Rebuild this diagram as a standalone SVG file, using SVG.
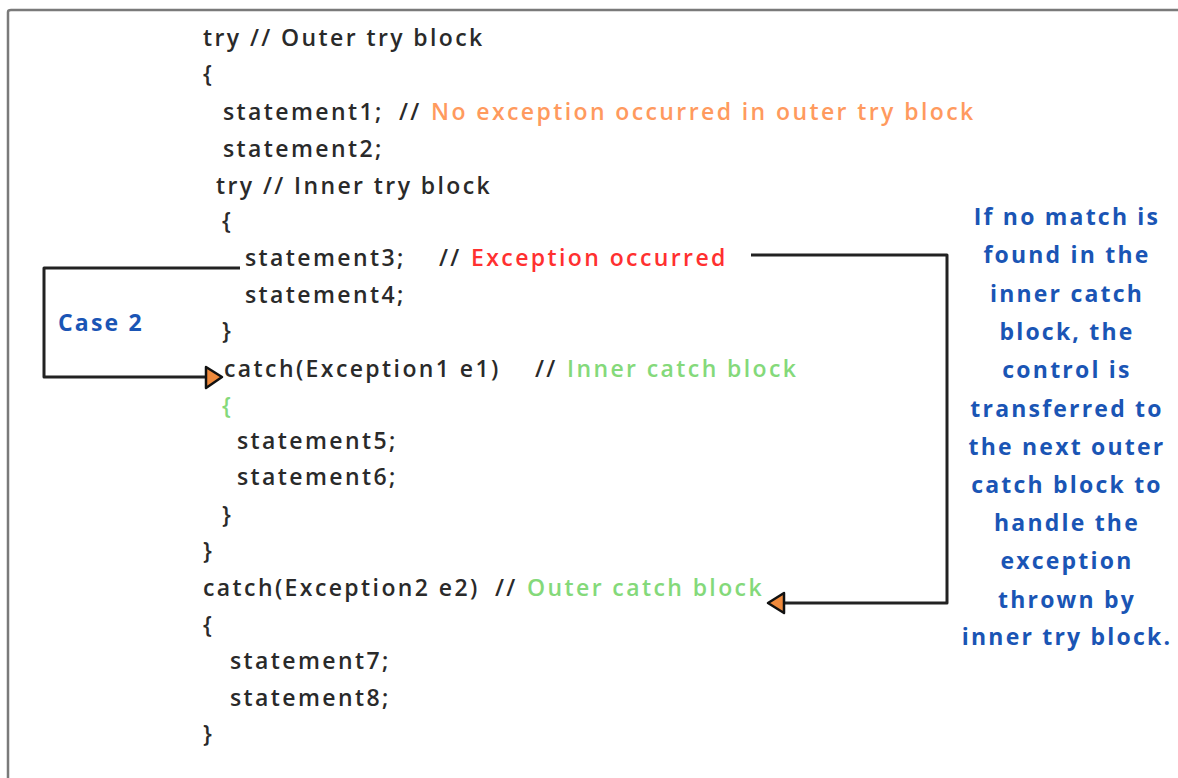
<svg xmlns="http://www.w3.org/2000/svg" width="1178" height="778" viewBox="0 0 1178 778">
  <style>
    .code { font-family: "Open Sans", "Noto Sans", sans-serif; font-size: 23px; font-weight: 600; fill: #2a2a2a; letter-spacing: 2.4px; }
    .orange { fill: #ff9a5e; }
    .red { fill: #ff3030; }
    .green { fill: #84d97a; }
    .note { font-family: "Open Sans", "Noto Sans", sans-serif; font-size: 23px; font-weight: 700; fill: #1a55b5; letter-spacing: 2.2px; }
    .wire { fill: none; stroke: #222; stroke-width: 3; stroke-linejoin: round; }
    .head { fill: #f08a3c; stroke: #111; stroke-width: 2.5; stroke-linejoin: round; }
  </style>

  <rect x="0" y="0" width="1178" height="778" fill="#ffffff"/>
  <!-- frame: open on the right and bottom -->
  <path d="M 8 790 L 8 12 Q 8 10 11 10 L 1190 10" fill="none" stroke="#7a7a7a" stroke-width="2.5"/>

  <g id="code">
    <text class="code" x="203" y="46">try // Outer try block</text>
    <text class="code" x="203" y="82">{</text>
    <text class="code" x="223" y="120">statement1;</text>
    <text class="code" x="399" y="120">//</text>
    <text class="code orange" x="431" y="120">No exception occurred in outer try block</text>
    <text class="code" x="223" y="157">statement2;</text>
    <text class="code" x="216" y="194">try // Inner try block</text>
    <text class="code" x="222" y="229">{</text>
    <text class="code" x="245" y="266">statement3;</text>
    <text class="code" x="439" y="266">//</text>
    <text class="code red" x="471" y="266">Exception occurred</text>
    <text class="code" x="245" y="303">statement4;</text>
    <text class="code" x="222" y="339">}</text>
    <text class="code" x="224" y="377">catch(Exception1 e1)</text>
    <text class="code" x="535" y="377">//</text>
    <text class="code green" x="567" y="377">Inner catch block</text>
    <text class="code green" x="222" y="414">{</text>
    <text class="code" x="237" y="449">statement5;</text>
    <text class="code" x="237" y="485">statement6;</text>
    <text class="code" x="222" y="523">}</text>
    <text class="code" x="203" y="559">}</text>
    <text class="code" x="203" y="596">catch(Exception2 e2)</text>
    <text class="code" x="495" y="596">//</text>
    <text class="code green" x="527" y="596">Outer catch block</text>
    <text class="code" x="203" y="633">{</text>
    <text class="code" x="230" y="669">statement7;</text>
    <text class="code" x="230" y="706">statement8;</text>
    <text class="code" x="203" y="742">}</text>
  </g>

  <g id="case2-label">
    <text class="note" x="58" y="331">Case 2</text>
  </g>

  <g id="outer-note" text-anchor="middle">
    <text class="note" x="1067" y="225">If no match is</text>
    <text class="note" x="1067" y="263">found in the</text>
    <text class="note" x="1067" y="302">inner catch</text>
    <text class="note" x="1067" y="340">block, the</text>
    <text class="note" x="1067" y="378">control is</text>
    <text class="note" x="1067" y="417">transferred to</text>
    <text class="note" x="1067" y="455">the next outer</text>
    <text class="note" x="1067" y="493">catch block to</text>
    <text class="note" x="1067" y="531">handle the</text>
    <text class="note" x="1067" y="569">exception</text>
    <text class="note" x="1067" y="608">thrown by</text>
    <text class="note" x="1067" y="645">inner try block.</text>
  </g>

  <g id="connectors">
    <!-- case 2: exception in statement3 caught by the inner catch -->
    <path class="wire" d="M 240 268 L 44 268 L 44 377 L 206 377"/>
    <polygon class="head" points="206,367 222,377 206,388"/>
    <!-- no inner match: control passes to the outer catch -->
    <path class="wire" d="M 751 255 L 947 255 L 947 603 L 784 603"/>
    <polygon class="head" points="784,593 768,603 784,613"/>
  </g>
</svg>
